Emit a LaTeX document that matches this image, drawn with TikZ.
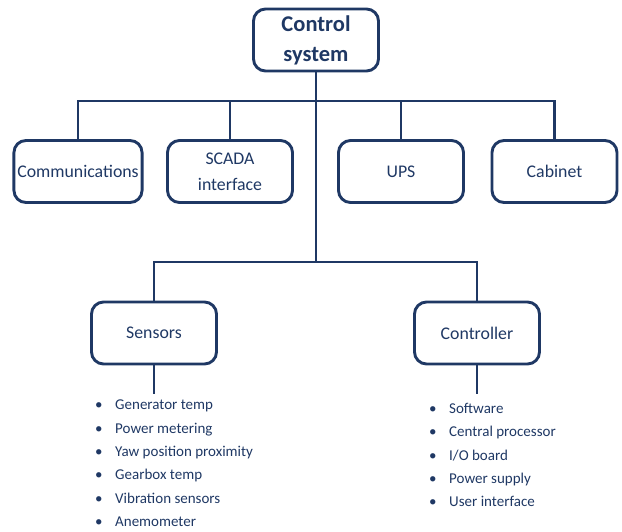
\documentclass[tikz,border=0pt]{standalone}
\usepackage{fontspec}
\setmainfont{Carlito}
\usetikzlibrary{positioning}
\definecolor{navy}{RGB}{31,56,100}

\begin{document}
\begin{tikzpicture}[
    x=1pt, y=-1pt,
    block/.style={draw=navy, line width=2.9pt, rounded corners=12pt,
    text=navy, text centered, align=center,
    font=\fontsize{17.8}{26}\selectfont,
    minimum height=62pt, minimum width=125pt},
    title/.style={block, font=\bfseries\fontsize{22.5}{30}\selectfont},
    link/.style={draw=navy, line width=2.9pt},
    items/.style={inner sep=0pt, align=left, text=navy,
    font=\fontsize{15}{23.3}\selectfont}
    ]
    \useasboundingbox (0,0) rectangle (622,531);

    \node[title]  (ctrl)   at (316,40)     {Control\\system};

    \node[block]  (comm)   at (78,171.5)   {Communications};
    \node[block]  (scada)  at (230,171.5)  {SCADA\\interface};
    \node[block]  (ups)    at (401,171.5)  {UPS};
    \node[block]  (cab)    at (554.5,171.5) {Cabinet};

    \node[block]  (sens)   at (154,333)    {Sensors};
    \node[block]  (contr)  at (477,333)    {Controller};

    \node[items, anchor=north west] (slist) at (95,400)
      {\makebox[20pt][l]{\textbullet}Generator temp\\
       \makebox[20pt][l]{\textbullet}Power metering\\
       \makebox[20pt][l]{\textbullet}Yaw position proximity\\
       \makebox[20pt][l]{\textbullet}Gearbox temp\\
       \makebox[20pt][l]{\textbullet}Vibration sensors\\
       \makebox[20pt][l]{\textbullet}Anemometer};
    \node[items, anchor=north west] (clist) at (429,403)
      {\makebox[20pt][l]{\textbullet}Software\\
       \makebox[20pt][l]{\textbullet}Central processor\\
       \makebox[20pt][l]{\textbullet}I/O board\\
       \makebox[20pt][l]{\textbullet}Power supply\\
       \makebox[20pt][l]{\textbullet}User interface};

    \coordinate (bus1) at (316,101);
    \coordinate (bus2) at (316,262);

    \draw[link] (ctrl.south) -- (bus2);
    \draw[link] (comm.north) |- (bus1) -| (cab.north);
    \draw[link] (scada.north) -- (scada.north |- bus1);
    \draw[link] (ups.north) -- (ups.north |- bus1);
    \draw[link] (sens.north) |- (bus2) -| (contr.north);
    \draw[link] (sens.south) -- ([yshift=6pt]sens.south |- slist.north);
    \draw[link] (contr.south) -- ([yshift=9pt]contr.south |- clist.north);
  \end{tikzpicture}
\end{document}
